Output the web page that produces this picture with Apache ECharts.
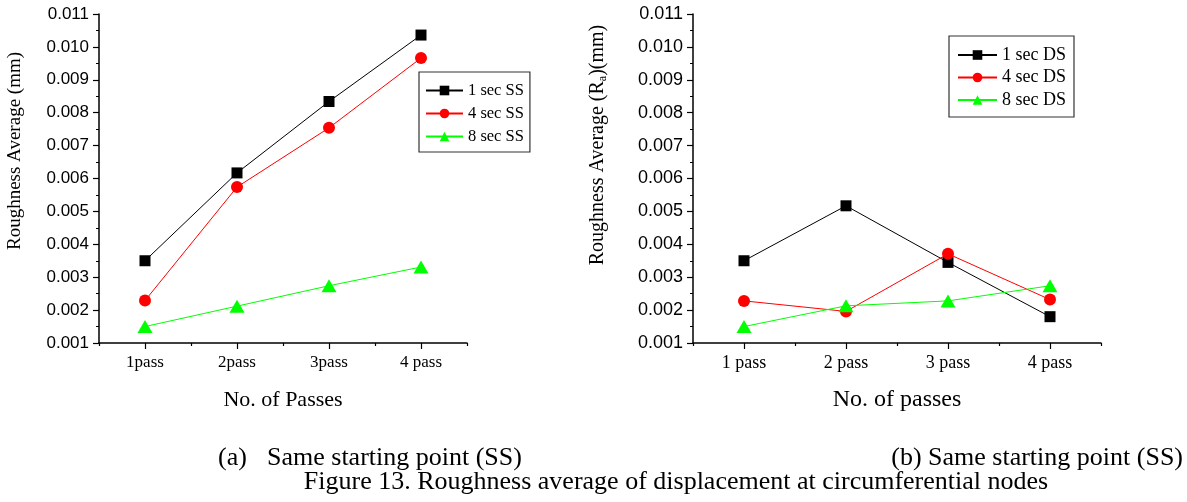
<!DOCTYPE html>
<html>
<head>
<meta charset="utf-8">
<script src="https://cdn.jsdelivr.net/npm/echarts@6/dist/echarts.min.js"></script>
<style>
html,body{margin:0;padding:0;background:#fff;}
#c{width:1187px;height:502px;}
</style>
</head>
<body>
<div id="c"></div>
<script>
// ---- data ----
const passesA = ['1pass', '2pass', '3pass', '4 pass'];
const passesB = ['1 pass', '2 pass', '3 pass', '4 pass'];
const namesA = ['1 sec SS', '4 sec SS', '8 sec SS'];
const namesB = ['1 sec DS', '4 sec DS', '8 sec DS'];
const ss1 = [0.00350, 0.00617, 0.00834, 0.01036];
const ss4 = [0.00229, 0.00574, 0.00754, 0.00966];
const ss8 = [0.00150, 0.00212, 0.00274, 0.00331];
const ds1 = [0.00350, 0.00517, 0.00345, 0.00180];
const ds4 = [0.00228, 0.00196, 0.00371, 0.00232];
const ds8 = [0.00150, 0.00213, 0.00228, 0.00274];
const yMin = 0.001, yMax = 0.011, yStep = 0.001;

const SERIF = 'Liberation Serif';
const SANS = 'Liberation Sans';
const colors = ['#000000', '#ff0000', '#00ff00'];
const symbols = ['rect', 'circle', 'triangle'];
const symSizes = [11, 12, [15, 13]];

function yAxis(gi, fs) {
  return {
    type: 'value', gridIndex: gi, min: yMin, max: yMax, interval: yStep,
    axisLine: {show: true, lineStyle: {color: '#000', width: 1.5}},
    axisTick: {show: true, length: 6, lineStyle: {color: '#000', width: 1.2}},
    minorTick: {show: true, splitNumber: 2, length: 3, lineStyle: {color: '#000', width: 1}},
    splitLine: {show: false},
    axisLabel: {color: '#000', fontFamily: SANS, fontSize: fs, margin: 10,
      formatter: v => v.toFixed(3)}
  };
}
function xAxes(gi, cats, fs) {
  return [{
    type: 'category', gridIndex: gi, data: cats, boundaryGap: true,
    axisLine: {show: true, lineStyle: {color: '#000', width: 1.5}},
    axisTick: {show: true, alignWithLabel: true, length: 6, lineStyle: {color: '#000', width: 1.2}},
    axisLabel: {color: '#000', fontFamily: SERIF, fontSize: fs, margin: 11},
    splitLine: {show: false}
  }, {
    type: 'category', gridIndex: gi, data: cats, boundaryGap: true, position: 'bottom',
    axisLine: {show: false},
    axisTick: {show: true, alignWithLabel: false, length: 3, lineStyle: {color: '#000', width: 1.2}},
    axisLabel: {show: false},
    splitLine: {show: false}
  }];
}
function series(names, arrs, xi, yi) {
  return arrs.map((d, i) => ({
    name: names[i], type: 'line', xAxisIndex: xi, yAxisIndex: yi, data: d,
    symbol: symbols[i], symbolSize: symSizes[i],
    itemStyle: {color: colors[i]},
    lineStyle: {color: colors[i], width: 1},
    emphasis: {disabled: true}
  }));
}

const chart = echarts.init(document.getElementById('c'), null, {renderer: 'canvas'});
chart.setOption({
  animation: false,
  backgroundColor: '#fff',
  grid: [
    {left: 99, top: 14, width: 368, height: 329},
    {left: 693, top: 14, width: 408, height: 329}
  ],
  xAxis: [...xAxes(0, passesA, 17), ...xAxes(1, passesB, 18)],
  yAxis: [yAxis(0, 17), yAxis(1, 18)],
  legend: [{
    data: namesA, orient: 'vertical', left: 419, top: 72,
    itemWidth: 37, itemHeight: 12, itemGap: 6, padding: [10, 6, 7, 6],
    borderColor: '#333', borderWidth: 1.2,
    textStyle: {color: '#000', fontFamily: SERIF, fontSize: 16.5, lineHeight: 17}
  }, {
    data: namesB, orient: 'vertical', left: 949, top: 36,
    itemWidth: 39, itemHeight: 12, itemGap: 4.5, padding: [10, 8, 8, 8],
    borderColor: '#333', borderWidth: 1.2,
    textStyle: {color: '#000', fontFamily: SERIF, fontSize: 18, lineHeight: 18}
  }],
  series: [...series(namesA, [ss1, ss4, ss8], 0, 0), ...series(namesB, [ds1, ds4, ds8], 2, 1)],
  graphic: [
    {type: 'text', x: 15, y: 151, rotation: Math.PI / 2,
     style: {text: 'Roughness Average (mm)', font: '19px "' + SERIF + '"', fill: '#000',
       align: 'center', verticalAlign: 'middle', textAlign: 'center', textVerticalAlign: 'middle'}},
    {type: 'text', x: 598, y: 145, rotation: Math.PI / 2,
     style: {text: '{n|Roughness Average (R}{s|a}{n|)(mm)}', fill: '#000',
       align: 'center', verticalAlign: 'middle', textAlign: 'center', textVerticalAlign: 'middle',
       rich: {
         n: {fontFamily: SERIF, fontSize: 20, fill: '#000', lineHeight: 22},
         s: {fontFamily: SERIF, fontSize: 12, fill: '#000', verticalAlign: 'bottom', lineHeight: 22, padding: [8, 0, 0, 0]}
       }}},
    {type: 'text', x: 283, y: 400,
     style: {text: 'No. of Passes', font: '22px "' + SERIF + '"', fill: '#000',
       align: 'center', verticalAlign: 'middle', textAlign: 'center', textVerticalAlign: 'middle'}},
    {type: 'text', x: 897, y: 400,
     style: {text: 'No. of passes', font: '24px "' + SERIF + '"', fill: '#000',
       align: 'center', verticalAlign: 'middle', textAlign: 'center', textVerticalAlign: 'middle'}},
    {type: 'text', x: 218, y: 458,
     style: {text: '(a)', font: '26px "' + SERIF + '"', fill: '#000',
       align: 'left', verticalAlign: 'middle', textAlign: 'left', textVerticalAlign: 'middle'}},
    {type: 'text', x: 267, y: 458,
     style: {text: 'Same starting point (SS)', font: '26px "' + SERIF + '"', fill: '#000',
       align: 'left', verticalAlign: 'middle', textAlign: 'left', textVerticalAlign: 'middle'}},
    {type: 'text', x: 1183, y: 458,
     style: {text: '(b) Same starting point (SS)', font: '26px "' + SERIF + '"', fill: '#000',
       align: 'right', verticalAlign: 'middle', textAlign: 'right', textVerticalAlign: 'middle'}},
    {type: 'text', x: 676, y: 482,
     style: {text: 'Figure 13. Roughness average of displacement at circumferential nodes', font: '26px "' + SERIF + '"', fill: '#000',
       align: 'center', verticalAlign: 'middle', textAlign: 'center', textVerticalAlign: 'middle'}}
  ]
});
</script>
</body>
</html>
